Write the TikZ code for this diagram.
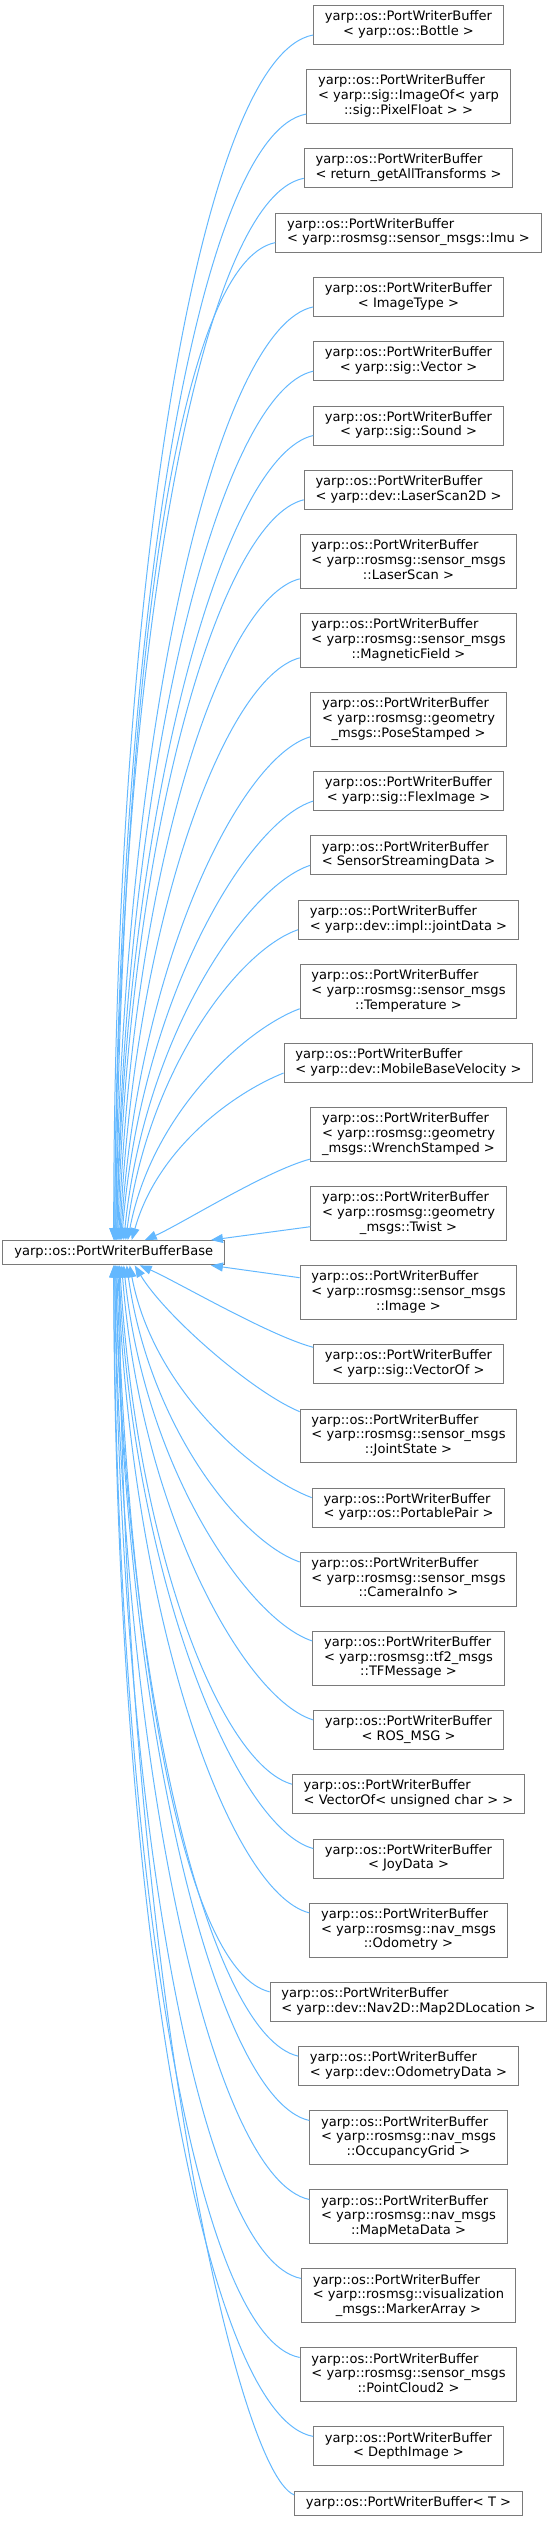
\documentclass[tikz,border=0pt]{standalone}
\usepackage{fontspec}
\setmainfont{DejaVu Sans}
\usetikzlibrary{arrows.meta}
\definecolor{edgeblue}{HTML}{63B8FF}
\definecolor{boxline}{HTML}{7A7A7A}
\newcommand{\clsname}[1]{\begin{tabular}{@{}l@{}}#1\end{tabular}}
\newcommand{\lastrow}[1]{\multicolumn{1}{@{}c@{}}{#1}}
\newcommand{\twoline}[1]{\clsname{yarp::os::PortWriterBuffer\\\lastrow{#1}}}
\newcommand{\threeline}[2]{\clsname{yarp::os::PortWriterBuffer\\#1\\\lastrow{#2}}}
\tikzset{
  every node/.style={font=\fontsize{13.05pt}{14.7pt}\selectfont,text=black},
  cls/.style={draw=boxline,fill=white,line width=1pt,inner xsep=11.3pt,inner ysep=4.8pt},
  inh/.style={-{Triangle[length=12pt,width=9pt]},draw=edgeblue,line width=1pt},
}

\begin{document}
\begin{tikzpicture}[x=1pt,y=-1pt]
  \useasboundingbox (0,0) rectangle (551,2522);
  % Base
  \node[cls] (pwb) at (113.7,1252.7) {\clsname{yarp::os::PortWriterBufferBase}};

  % Derived, above the base
  \node[cls] (bot) at (408.5,25.0) {\twoline{< yarp::os::Bottle >}};
  \node[cls] (imf) at (408.5,96.7) {\threeline{< yarp::sig::ImageOf< yarp}{::sig::PixelFloat > >}};
  \node[cls] (gat) at (408.5,168.3) {\twoline{< return\_getAllTransforms >}};
  \node[cls] (imu) at (408.5,232.6) {\twoline{< yarp::rosmsg::sensor\_msgs::Imu >}};
  \node[cls] (imt) at (408.5,296.9) {\twoline{< ImageType >}};
  \node[cls] (vec) at (408.5,361.2) {\twoline{< yarp::sig::Vector >}};
  \node[cls] (snd) at (408.5,425.5) {\twoline{< yarp::sig::Sound >}};
  \node[cls] (ls2) at (408.5,489.8) {\twoline{< yarp::dev::LaserScan2D >}};
  \node[cls] (lsc) at (408.5,561.5) {\threeline{< yarp::rosmsg::sensor\_msgs}{::LaserScan >}};
  \node[cls] (mag) at (408.5,640.5) {\threeline{< yarp::rosmsg::sensor\_msgs}{::MagneticField >}};
  \node[cls] (pose) at (408.5,719.5) {\threeline{< yarp::rosmsg::geometry}{\_msgs::PoseStamped >}};
  \node[cls] (flex) at (408.5,791.1) {\twoline{< yarp::sig::FlexImage >}};
  \node[cls] (ssd) at (408.5,855.4) {\twoline{< SensorStreamingData >}};
  \node[cls] (jnt) at (408.5,919.7) {\twoline{< yarp::dev::impl::jointData >}};
  \node[cls] (temp) at (408.5,991.4) {\threeline{< yarp::rosmsg::sensor\_msgs}{::Temperature >}};
  \node[cls] (mbv) at (408.5,1063.0) {\twoline{< yarp::dev::MobileBaseVelocity >}};
  \node[cls] (wre) at (408.5,1134.7) {\threeline{< yarp::rosmsg::geometry}{\_msgs::WrenchStamped >}};
  \node[cls] (twi) at (408.5,1213.7) {\threeline{< yarp::rosmsg::geometry}{\_msgs::Twist >}};

  % Derived, below the base
  \node[cls] (img) at (408.5,1292.7) {\threeline{< yarp::rosmsg::sensor\_msgs}{::Image >}};
  \node[cls] (vof) at (408.5,1364.3) {\twoline{< yarp::sig::VectorOf >}};
  \node[cls] (jst) at (408.5,1436.0) {\threeline{< yarp::rosmsg::sensor\_msgs}{::JointState >}};
  \node[cls] (pp) at (408.5,1507.6) {\twoline{< yarp::os::PortablePair >}};
  \node[cls] (cam) at (408.5,1579.3) {\threeline{< yarp::rosmsg::sensor\_msgs}{::CameraInfo >}};
  \node[cls] (tf) at (408.5,1658.3) {\threeline{< yarp::rosmsg::tf2\_msgs}{::TFMessage >}};
  \node[cls] (ros) at (408.5,1729.9) {\twoline{< ROS\_MSG >}};
  \node[cls] (vuc) at (408.5,1794.2) {\twoline{< VectorOf< unsigned char > >}};
  \node[cls] (joy) at (408.5,1858.5) {\twoline{< JoyData >}};
  \node[cls] (odo) at (408.5,1930.2) {\threeline{< yarp::rosmsg::nav\_msgs}{::Odometry >}};
  \node[cls] (m2d) at (408.5,2001.8) {\twoline{< yarp::dev::Nav2D::Map2DLocation >}};
  \node[cls] (odd) at (408.5,2066.1) {\twoline{< yarp::dev::OdometryData >}};
  \node[cls] (ogr) at (408.5,2137.8) {\threeline{< yarp::rosmsg::nav\_msgs}{::OccupancyGrid >}};
  \node[cls] (mmd) at (408.5,2216.8) {\threeline{< yarp::rosmsg::nav\_msgs}{::MapMetaData >}};
  \node[cls] (mka) at (408.5,2295.8) {\threeline{< yarp::rosmsg::visualization}{\_msgs::MarkerArray >}};
  \node[cls] (pc2) at (408.5,2374.8) {\threeline{< yarp::rosmsg::sensor\_msgs}{::PointCloud2 >}};
  \node[cls] (dep) at (408.5,2446.4) {\twoline{< DepthImage >}};
  \node[cls] (tpl) at (408.5,2503.5) {\clsname{yarp::os::PortWriterBuffer< T >}};

  % Inheritance edges, upper group
  \draw[inh] ([yshift=10pt]bot.south west) .. controls +(-112,20) and +(0,-663) .. ([xshift=0pt]pwb.north);
  \draw[inh] ([yshift=10pt]imf.south west) .. controls +(-108,20) and +(2,-619) .. ([xshift=1pt]pwb.north);
  \draw[inh] ([yshift=10pt]gat.south west) .. controls +(-104,20) and +(3,-584) .. ([xshift=1pt]pwb.north);
  \draw[inh] ([yshift=10pt]imu.south west) .. controls +(-100,20) and +(5,-548) .. ([xshift=2pt]pwb.north);
  \draw[inh] ([yshift=10pt]imt.south west) .. controls +(-96,20) and +(7,-513) .. ([xshift=2pt]pwb.north);
  \draw[inh] ([yshift=10pt]vec.south west) .. controls +(-92,20) and +(8,-478) .. ([xshift=3pt]pwb.north);
  \draw[inh] ([yshift=10pt]snd.south west) .. controls +(-88,20) and +(10,-443) .. ([xshift=3pt]pwb.north);
  \draw[inh] ([yshift=10pt]ls2.south west) .. controls +(-84,20) and +(11,-407) .. ([xshift=4pt]pwb.north);
  \draw[inh] ([yshift=10pt]lsc.south west) .. controls +(-80,20) and +(13,-364) .. ([xshift=5pt]pwb.north);
  \draw[inh] ([yshift=10pt]mag.south west) .. controls +(-75,20) and +(15,-320) .. ([xshift=6pt]pwb.north);
  \draw[inh] ([yshift=10pt]pose.south west) .. controls +(-70,20) and +(17,-277) .. ([xshift=7pt]pwb.north);
  \draw[inh] ([yshift=10pt]flex.south west) .. controls +(-66,20) and +(19,-241) .. ([xshift=8pt]pwb.north);
  \draw[inh] ([yshift=10pt]ssd.south west) .. controls +(-62,20) and +(21,-206) .. ([xshift=10pt]pwb.north);
  \draw[inh] ([yshift=10pt]jnt.south west) .. controls +(-59,20) and +(22,-171) .. ([xshift=12pt]pwb.north);
  \draw[inh] ([yshift=10pt]temp.south west) .. controls +(-54,20) and +(24,-127) .. ([xshift=14pt]pwb.north);
  \draw[inh] ([yshift=10pt]mbv.south west) .. controls +(-50,20) and +(26,-92) .. ([xshift=18pt]pwb.north);
  \draw[inh] ([yshift=3pt]wre.south west) .. controls +(-45,12) and +(35,-15) .. ([xshift=31pt]pwb.north);
  \draw[inh] ([yshift=-13pt]twi.west) -- ([xshift=-14pt]pwb.north east);

  % Inheritance edges, lower group
  \draw[inh] ([yshift=15pt]img.west) -- ([xshift=-14pt]pwb.south east);
  \draw[inh] ([yshift=-3pt]vof.north west) .. controls +(-45,-12) and +(35,15) .. ([xshift=26pt]pwb.south);
  \draw[inh] ([yshift=-3pt]jst.north west) .. controls +(-48,-20) and +(30,50) .. ([xshift=21pt]pwb.south);
  \draw[inh] ([yshift=-10pt]pp.north west) .. controls +(-54,-20) and +(24,127) .. ([xshift=16pt]pwb.south);
  \draw[inh] ([yshift=-10pt]cam.north west) .. controls +(-58,-20) and +(23,163) .. ([xshift=13pt]pwb.south);
  \draw[inh] ([yshift=-10pt]tf.north west) .. controls +(-62,-20) and +(21,206) .. ([xshift=10pt]pwb.south);
  \draw[inh] ([yshift=-10pt]ros.north west) .. controls +(-67,-20) and +(19,250) .. ([xshift=8pt]pwb.south);
  \draw[inh] ([yshift=-10pt]vuc.north west) .. controls +(-71,-20) and +(17,285) .. ([xshift=6pt]pwb.south);
  \draw[inh] ([yshift=-10pt]joy.north west) .. controls +(-75,-20) and +(15,320) .. ([xshift=5pt]pwb.south);
  \draw[inh] ([yshift=-10pt]odo.north west) .. controls +(-79,-20) and +(14,356) .. ([xshift=4pt]pwb.south);
  \draw[inh] ([yshift=-10pt]m2d.north west) .. controls +(-84,-20) and +(12,399) .. ([xshift=3pt]pwb.south);
  \draw[inh] ([yshift=-10pt]odd.north west) .. controls +(-87,-20) and +(10,435) .. ([xshift=2pt]pwb.south);
  \draw[inh] ([yshift=-10pt]ogr.north west) .. controls +(-91,-20) and +(9,470) .. ([xshift=2pt]pwb.south);
  \draw[inh] ([yshift=-10pt]mmd.north west) .. controls +(-96,-20) and +(7,513) .. ([xshift=1pt]pwb.south);
  \draw[inh] ([yshift=-10pt]mka.north west) .. controls +(-101,-20) and +(5,557) .. ([xshift=1pt]pwb.south);
  \draw[inh] ([yshift=-10pt]pc2.north west) .. controls +(-105,-20) and +(3,600) .. ([xshift=0pt]pwb.south);
  \draw[inh] ([yshift=-10pt]dep.north west) .. controls +(-110,-20) and +(1,644) .. ([xshift=0pt]pwb.south);
  \draw[inh] ([yshift=-4pt]tpl.north west) .. controls +(-60,-25) and +(0,676) .. ([xshift=6pt]pwb.south);
\end{tikzpicture}
\end{document}
